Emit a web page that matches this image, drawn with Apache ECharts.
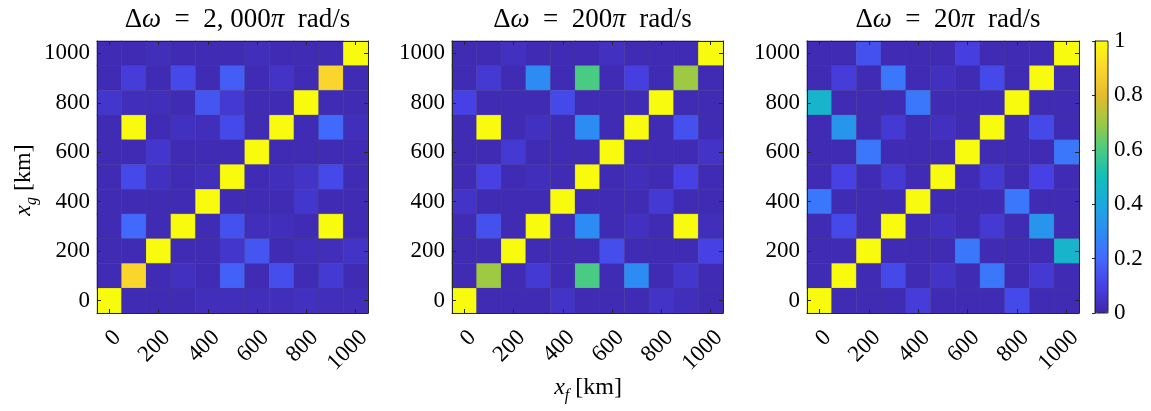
<!DOCTYPE html>
<html>
<head>
<meta charset="utf-8">
<script src="https://cdn.jsdelivr.net/npm/echarts@6/dist/echarts.min.js"></script>
<style>
html,body{margin:0;padding:0;background:#fff;}
#chart{width:1151px;height:411px;}
</style>
</head>
<body>
<div id="chart"></div>
<script>
// categories (km) for both axes
const positions = ['0','100','200','300','400','500','600','700','800','900','1000'];
const colorbarTicks = [0, 0.2, 0.4, 0.6, 0.8, 1];

// matrices: rows listed from x_g = 1000 (top) down to x_g = 0 (bottom); columns x_f = 0..1000
const panelA = [ // Δω = 2,000π
  [0.02,0.02,0.03,0.02,0.02,0.02,0.03,0.02,0.02,0.02,1],
  [0.02,0.08,0.02,0.12,0.02,0.17,0.02,0.05,0.02,0.9,0.02],
  [0.06,0.03,0.03,0.02,0.15,0.07,0.02,0.02,1,0.02,0.02],
  [0.02,1,0.02,0.04,0.03,0.12,0.02,1,0.02,0.2,0.03],
  [0.02,0.02,0.06,0.02,0.02,0.02,1,0.02,0.02,0.02,0.02],
  [0.02,0.12,0.04,0.02,0.03,1,0.02,0.03,0.05,0.12,0.02],
  [0.02,0.02,0.02,0.02,1,0.02,0.02,0.02,0.06,0.02,0.02],
  [0.02,0.2,0.02,1,0.02,0.14,0.03,0.03,0.02,1,0.02],
  [0.02,0.02,1,0.02,0.02,0.06,0.15,0.02,0.03,0.03,0.05],
  [0.02,0.9,0.02,0.04,0.02,0.18,0.02,0.13,0.02,0.07,0.02],
  [1,0.02,0.02,0.02,0.03,0.03,0.03,0.03,0.04,0.03,0.03]
];
const panelB = [ // Δω = 200π
  [0.02,0.02,0.04,0.02,0.02,0.02,0.04,0.02,0.02,0.02,1],
  [0.02,0.07,0.02,0.3,0.02,0.6,0.02,0.09,0.02,0.7,0.02],
  [0.1,0.02,0.02,0.02,0.12,0.02,0.02,0.02,1,0.02,0.02],
  [0.02,1,0.02,0.04,0.02,0.3,0.02,1,0.02,0.14,0.02],
  [0.02,0.02,0.07,0.02,0.02,0.02,1,0.02,0.02,0.02,0.05],
  [0.02,0.1,0.02,0.03,0.02,1,0.02,0.03,0.02,0.1,0.02],
  [0.05,0.02,0.02,0.02,1,0.02,0.02,0.02,0.07,0.02,0.02],
  [0.02,0.14,0.02,1,0.02,0.3,0.02,0.04,0.02,1,0.03],
  [0.02,0.02,1,0.02,0.02,0.02,0.13,0.02,0.02,0.02,0.1],
  [0.02,0.7,0.02,0.07,0.02,0.6,0.02,0.3,0.02,0.06,0.02],
  [1,0.02,0.02,0.02,0.05,0.02,0.02,0.02,0.05,0.03,0.02]
];
const panelC = [ // Δω = 20π
  [0.02,0.02,0.14,0.02,0.02,0.02,0.09,0.02,0.02,0.02,1],
  [0.02,0.08,0.02,0.24,0.02,0.04,0.02,0.12,0.02,1,0.02],
  [0.45,0.02,0.02,0.02,0.24,0.02,0.02,0.02,1,0.02,0.02],
  [0.02,0.33,0.02,0.07,0.02,0.04,0.02,1,0.02,0.12,0.02],
  [0.02,0.02,0.24,0.02,0.02,0.02,1,0.02,0.02,0.02,0.24],
  [0.02,0.1,0.02,0.07,0.02,1,0.02,0.07,0.02,0.1,0.02],
  [0.24,0.02,0.02,0.02,1,0.02,0.02,0.02,0.24,0.02,0.02],
  [0.02,0.12,0.02,1,0.02,0.04,0.02,0.07,0.02,0.33,0.02],
  [0.02,0.02,1,0.02,0.02,0.02,0.24,0.02,0.02,0.02,0.45],
  [0.02,1,0.02,0.12,0.02,0.05,0.02,0.24,0.02,0.07,0.02],
  [1,0.02,0.02,0.02,0.08,0.02,0.02,0.02,0.12,0.02,0.02]
];
const titles = [
  '{n|Δ}{i|ω}{n|  =  2, 000}{i|π}{n|  rad/s}',
  '{n|Δ}{i|ω}{n|  =  200}{i|π}{n|  rad/s}',
  '{n|Δ}{i|ω}{n|  =  20}{i|π}{n|  rad/s}'
];
const xName = '{i|x}{s|f}{n| [km]}';
const yName = '{i|x}{s|g}{n| [km]}';

const parula = ['#3e26a8','#4741e5','#4269fe','#2d8cf3','#1ca9df','#12beb9','#4acb84','#9dc943','#e6bb2d','#fad62d','#f9fb0e'];
const FONT = 'Liberation Serif';
const INK = '#262626';

function toData(rows) {
  const out = [];
  rows.forEach((row, r) => {
    const yi = positions.length - 1 - r;
    row.forEach((v, xi) => out.push([xi, yi, v]));
  });
  return out;
}

const grids = [
  {left: 97, top: 41, width: 271, height: 272, outerBoundsMode: 'none', containLabel: false},
  {left: 452, top: 41, width: 271, height: 272, outerBoundsMode: 'none', containLabel: false},
  {left: 807, top: 41, width: 272, height: 272, outerBoundsMode: 'none', containLabel: false}
];

const richTitle = {
  n: {fontFamily: FONT, fontSize: 27, fontWeight: 'normal', color: '#000'},
  i: {fontFamily: FONT, fontSize: 27, fontWeight: 'normal', fontStyle: 'italic', color: '#000'}
};
const richName = {
  i: {fontFamily: FONT, fontSize: 24, fontStyle: 'italic', fill: '#000', color: '#000', lineHeight: 32},
  s: {fontFamily: FONT, fontSize: 16, fontStyle: 'italic', fill: '#000', color: '#000', lineHeight: 22, verticalAlign: 'bottom'},
  n: {fontFamily: FONT, fontSize: 24, fill: '#000', color: '#000', lineHeight: 32}
};

const xAxes = [], yAxes = [], series = [], title = [];
const datasets = [panelA, panelB, panelC];
grids.forEach((g, k) => {
  title.push({
    text: titles[k], left: g.left + g.width / 2, top: 1, textAlign: 'center',
    textStyle: {fontWeight: 'normal', rich: richTitle}
  });
  const tickCommon = {show: true, inside: true, length: 4, interval: 1, alignWithLabel: true, lineStyle: {color: INK, width: 1}};
  xAxes.push({
    type: 'category', gridIndex: k, data: positions, position: 'bottom',
    axisLine: {show: true, lineStyle: {color: INK, width: 1}},
    axisTick: tickCommon,
    axisLabel: {interval: 1, rotate: 45, verticalAlign: 'top', margin: 13, fontFamily: FONT, fontSize: 23, color: '#000'},
    splitLine: {show: false}, z: 10
  });
  xAxes.push({
    type: 'category', gridIndex: k, data: positions, position: 'top',
    axisLine: {show: true, lineStyle: {color: INK, width: 1}},
    axisTick: tickCommon, axisLabel: {show: false}, splitLine: {show: false}, z: 10
  });
  yAxes.push({
    type: 'category', gridIndex: k, data: positions, position: 'left',
    axisLine: {show: true, lineStyle: {color: INK, width: 1}},
    axisTick: tickCommon,
    axisLabel: {interval: 1, margin: 7, fontFamily: FONT, fontSize: 23, color: '#000'},
    splitLine: {show: false}, z: 10
  });
  yAxes.push({
    type: 'category', gridIndex: k, data: positions, position: 'right',
    axisLine: {show: true, lineStyle: {color: INK, width: 1}},
    axisTick: tickCommon, axisLabel: {show: false}, splitLine: {show: false}, z: 10
  });
  series.push({
    type: 'heatmap', xAxisIndex: 2 * k, yAxisIndex: 2 * k,
    data: toData(datasets[k]),
    itemStyle: {borderColor: 'rgba(90,90,90,0.3)', borderWidth: 0.6},
    emphasis: {disabled: true}
  });
});

// colorbar axis
const cbGrid = {left: 1095, top: 41, width: 13, height: 272, show: true, borderColor: INK, borderWidth: 1, backgroundColor: 'transparent', z: 5, outerBoundsMode: 'none', containLabel: false};
xAxes.push({type: 'value', gridIndex: 3, show: false, min: 0, max: 1});
yAxes.push({
  type: 'value', gridIndex: 3, position: 'right', min: colorbarTicks[0], max: colorbarTicks[colorbarTicks.length - 1], interval: 0.2,
  axisLine: {show: true, lineStyle: {color: INK}},
  axisTick: {show: true, inside: true, length: 3, lineStyle: {color: INK}},
  axisLabel: {margin: 6, fontFamily: FONT, fontSize: 23, color: '#000'},
  splitLine: {show: false}, z: 10
});

const option = {
  backgroundColor: '#fff',
  animation: false,
  title: title,
  grid: grids.concat([cbGrid]),
  xAxis: xAxes,
  yAxis: yAxes,
  visualMap: {
    type: 'continuous', min: 0, max: 1, seriesIndex: [0, 1, 2],
    orient: 'vertical', left: 1095, top: 41, itemWidth: 13, itemHeight: 272,
    padding: 0, calculable: false, realtime: false, text: null, showLabel: false,
    inRange: {color: parula}
  },
  graphic: [
    {type: 'text', x: 588, y: 388, style: {text: xName, rich: richName, align: 'center', verticalAlign: 'middle'}},
    {type: 'text', x: 24, y: 180, rotation: Math.PI / 2, style: {text: yName, rich: richName, align: 'center', verticalAlign: 'middle'}}
  ],
  series: series
};

const chart = echarts.init(document.getElementById('chart'), null, {renderer: 'canvas'});
chart.setOption(option);
</script>
</body>
</html>
